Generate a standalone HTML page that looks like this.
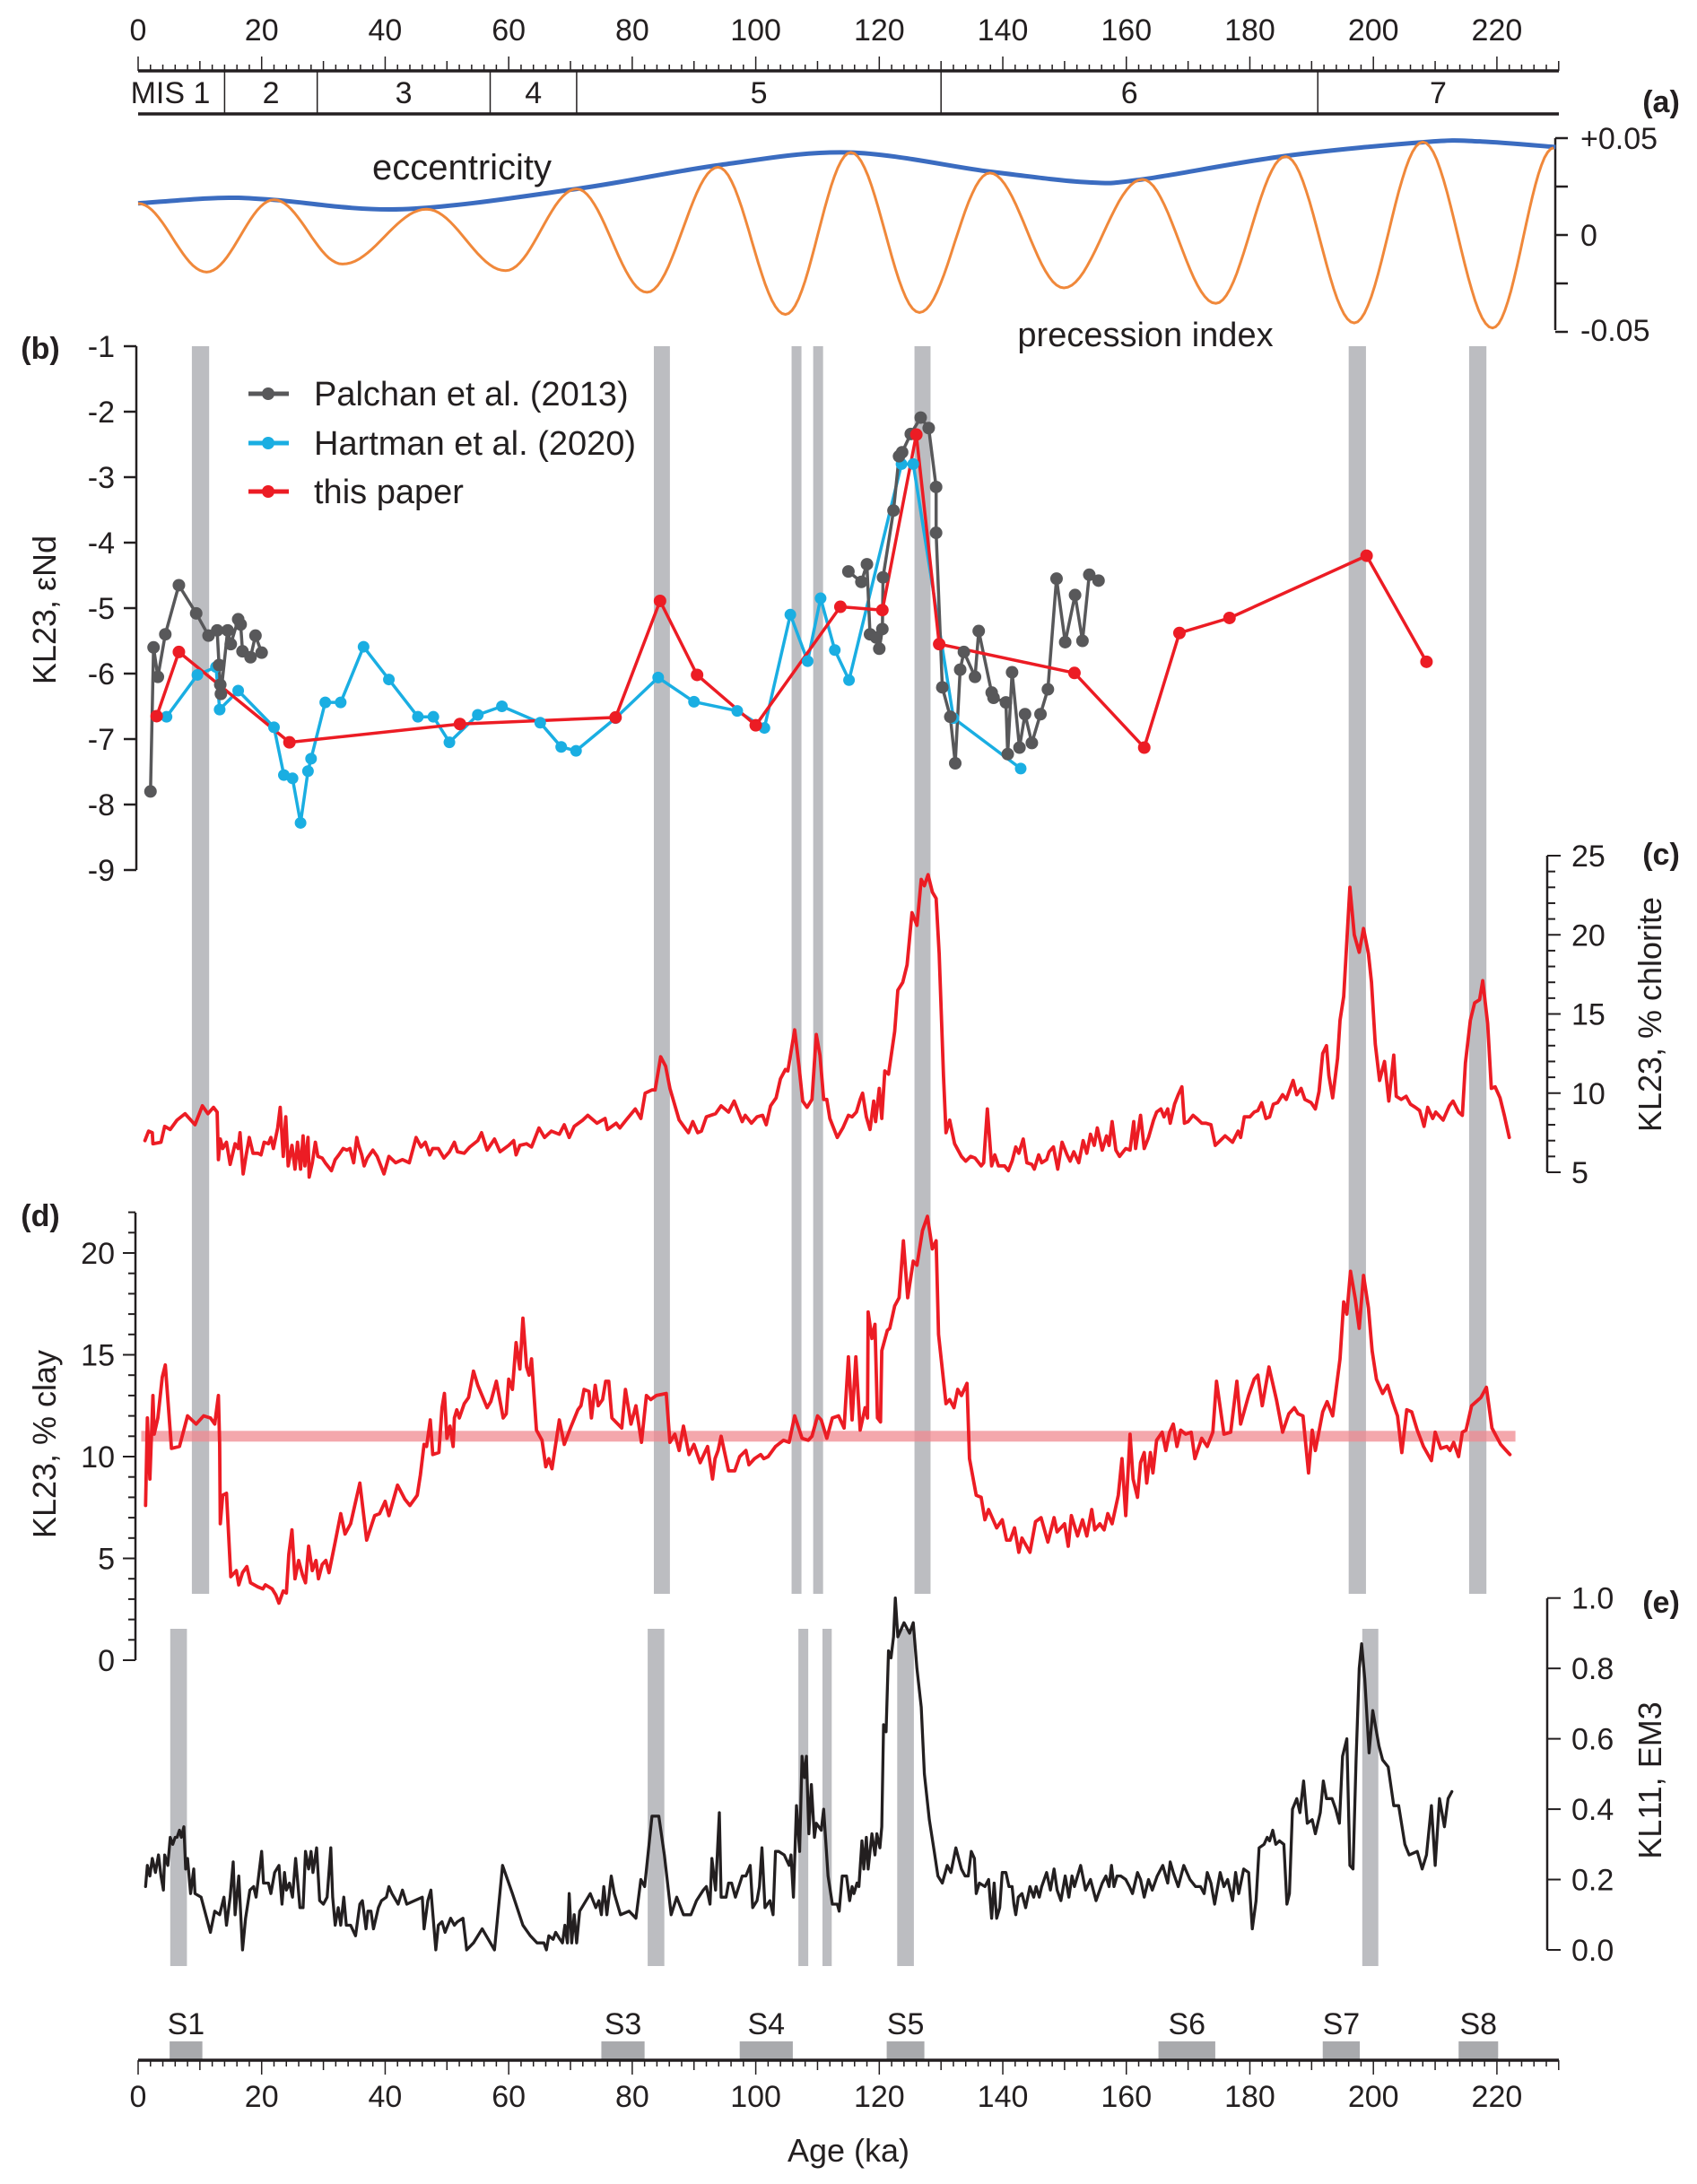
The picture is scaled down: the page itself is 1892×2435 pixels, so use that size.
<!DOCTYPE html>
<html><head><meta charset="utf-8"><style>
html,body{margin:0;padding:0;background:#fff;}
svg{display:block;font-family:"Liberation Sans",Arial,sans-serif;}
</style></head><body>
<svg id="fig" xmlns="http://www.w3.org/2000/svg" width="1892" height="2435" viewBox="0 0 1892 2435">
<rect x="0" y="0" width="1892" height="2435" fill="#fff"/>
<g id="bars"></g>
<g id="axes" stroke="#231f20" fill="none"></g>
<g id="marks"></g>
<g id="labels" fill="#231f20" font-size="34">
  <text x="1852" y="125" font-weight="bold" text-anchor="middle">(a)</text>
  <text x="515" y="200" text-anchor="middle" font-size="40">eccentricity</text>
  <text x="1277" y="386" text-anchor="middle" font-size="38">precession index</text>
  <text x="1762" y="166">+0.05</text>
  <text x="1762" y="274">0</text>
  <text x="1762" y="380">-0.05</text>
  <text x="45" y="400" font-weight="bold" text-anchor="middle">(b)</text>
  <text transform="translate(62,680) rotate(-90)" text-anchor="middle" font-size="36">KL23,  εNd</text>
  <text x="350" y="452" font-size="38">Palchan et al. (2013)</text>
  <text x="350" y="507" font-size="38">Hartman et al. (2020)</text>
  <text x="350" y="561" font-size="38">this paper</text>
  <text x="1852" y="964" font-weight="bold" text-anchor="middle">(c)</text>
  <text transform="translate(1852,1131) rotate(-90)" text-anchor="middle" font-size="36">KL23,  % chlorite</text>
  <text x="45" y="1367" font-weight="bold" text-anchor="middle">(d)</text>
  <text transform="translate(62,1610) rotate(-90)" text-anchor="middle" font-size="36">KL23,  % clay</text>
  <text x="1852" y="1798" font-weight="bold" text-anchor="middle">(e)</text>
  <text transform="translate(1852,1985) rotate(-90)" text-anchor="middle" font-size="36">KL11,  EM3</text>
  <text x="946" y="2410" text-anchor="middle" font-size="36">Age (ka)</text>
</g>
</svg>
<script>
// ---------- data ----------
const ageTicks = [0,20,40,60,80,100,120,140,160,180,200,220];
const misBounds = [14,29,57,71,130,191];
const misLabels = ["MIS 1","2","3","4","5","6","7"];
const eccAge = [0,12.9,21.7,42.8,71,93.9,115,137.9,153.8,162.6,185.5,208.4,217.2,229.5];
const eccVal = [0.0163,0.0191,0.0182,0.0133,0.0238,0.036,0.0426,0.0327,0.0272,0.0287,0.0407,0.048,0.0483,0.0454];
const precAge = [0,11.1,22.0,33.1,46.7,59.5,71.0,82.4,93.9,104.8,115.4,126.5,137.9,149.9,162.6,174.5,185.8,196.9,208.0,219.3,229.2];
const precVal = [0.0163,-0.0191,0.0182,-0.015,0.0133,-0.0184,0.0238,-0.0296,0.035,-0.041,0.0426,-0.040,0.032,-0.0273,0.0287,-0.0353,0.0405,-0.0454,0.048,-0.048,0.045];
const aTicks = [0.05,0.025,0,-0.025,-0.05];

const bTicks = [-1,-2,-3,-4,-5,-6,-7,-8,-9];
const palAge = [2.0,2.5,3.2,4.4,6.6,9.4,11.4,12.8,13.1,13.3,13.4,14.5,15.0,16.2,16.6,16.9,18.2,19.0,20.0,115.0,117.1,118.0,118.5,119.5,120.0,120.5,120.6,122.3,123.2,123.7,125.1,126.7,128.0,129.2,129.2,130.2,131.5,132.3,133.1,133.7,135.5,136.1,138.2,138.5,140.5,140.8,141.5,142.7,143.6,144.7,146.1,147.3,148.7,150.1,151.7,152.9,154.0,155.5];
const palVal = [-7.8,-5.6,-6.05,-5.4,-4.65,-5.08,-5.42,-5.34,-5.87,-6.17,-6.31,-5.34,-5.55,-5.17,-5.25,-5.66,-5.75,-5.42,-5.68,-4.44,-4.6,-4.33,-5.4,-5.45,-5.62,-5.32,-4.53,-3.51,-2.68,-2.62,-2.34,-2.09,-2.25,-3.15,-3.85,-6.21,-6.66,-7.37,-5.94,-5.67,-6.05,-5.35,-6.29,-6.37,-6.44,-7.23,-5.98,-7.13,-6.62,-7.06,-6.62,-6.24,-4.55,-5.52,-4.8,-5.5,-4.49,-4.58];
const hartAge = [4.6,9.6,12.6,13.2,16.2,22.0,23.6,25.0,26.3,27.5,28.0,30.3,32.8,36.5,40.6,45.3,47.8,50.4,55.0,58.9,65.1,68.5,70.9,77.3,84.2,90.0,97.0,101.4,105.6,108.4,110.5,112.8,115.1,123.6,125.5,132.0,142.9];
const hartVal = [-6.66,-6.02,-5.9,-6.55,-6.26,-6.82,-7.55,-7.6,-8.28,-7.49,-7.3,-6.44,-6.44,-5.59,-6.09,-6.66,-6.66,-7.05,-6.63,-6.5,-6.75,-7.12,-7.18,-6.68,-6.06,-6.43,-6.57,-6.83,-5.1,-5.81,-4.85,-5.64,-6.1,-2.8,-2.8,-6.68,-7.45];
const thisAge = [3.0,6.6,24.5,52.1,77.3,84.5,90.5,100.0,113.7,120.5,126.0,129.7,151.6,162.9,168.6,176.7,198.9,208.6];
const thisVal = [-6.65,-5.67,-7.05,-6.77,-6.67,-4.89,-6.02,-6.79,-4.98,-5.03,-2.35,-5.55,-5.99,-7.13,-5.38,-5.15,-4.2,-5.82];

const cTicks = [25,20,15,10,5];
const chlAge = [1.1,1.7,2.3,2.4,3.7,4.3,5.2,6.3,7.6,9.2,10.4,11.3,12.2,12.8,13.0,13.3,13.7,14.3,14.9,15.7,16.2,16.5,17.0,17.5,18.0,18.6,19.4,19.9,20.4,21.1,21.5,21.9,22.6,23.0,23.5,23.9,24.3,24.9,25.4,25.8,26.3,26.7,27.0,27.5,27.7,28.2,28.7,29.1,29.8,30.3,31.3,31.9,32.5,33.2,33.8,34.3,34.9,35.4,35.7,36.2,36.6,37.1,38.0,38.7,39.8,40.6,41.7,42.8,43.9,45.0,45.8,46.5,47.2,47.7,48.6,49.5,50.4,51.2,51.7,52.8,53.7,55.0,55.6,56.5,57.7,58.6,60.0,60.8,61.2,61.8,62.9,63.7,64.9,65.8,66.9,68.2,69.0,69.8,70.6,72.0,72.8,74.3,75.6,76.0,77.4,78.0,79.0,80.5,81.4,82.1,83.2,83.7,84.6,85.4,86.1,87.6,89.1,89.8,90.6,91.2,92.0,93.5,94.4,95.6,96.5,97.8,98.3,99.3,100.2,101.1,101.7,102.4,103.3,104.0,104.8,105.2,106.3,107.0,107.6,108.3,109.1,109.8,110.4,111.0,111.5,112.0,113.2,114.1,115.0,115.6,116.3,116.9,117.3,117.9,118.5,119.1,119.4,120.0,120.4,120.9,121.5,122.5,123.0,123.8,124.5,125.3,126.1,126.8,127.3,127.9,128.6,129.2,129.7,130.4,130.8,131.4,132.2,133.3,134.0,134.8,135.5,136.5,136.9,137.5,138.2,138.7,139.3,140.3,140.9,141.5,142.1,142.6,143.3,143.9,144.7,145.1,145.8,146.3,147.1,147.5,148.2,148.9,149.6,150.4,150.9,151.5,152.3,153.0,153.6,154.2,154.8,155.3,156.1,156.8,157.2,157.7,158.3,158.9,159.9,160.6,161.2,161.5,162.3,162.9,163.6,164.4,164.9,165.6,166.1,166.7,167.1,167.8,168.4,169.0,169.4,170.0,170.8,171.4,172.2,172.9,173.7,174.4,175.2,176.0,177.2,178.1,178.5,179.1,180.0,180.7,181.3,181.9,182.6,183.2,183.8,184.5,185.3,185.9,187.0,187.6,188.3,188.9,189.9,190.6,191.2,191.8,192.4,192.8,193.4,194.2,194.6,195.2,196.2,196.9,197.7,198.4,199.2,199.7,200.3,201.0,201.8,202.5,203.3,203.7,204.5,205.3,206.0,206.8,207.5,208.2,208.8,209.6,210.1,211.3,212.3,212.9,213.8,214.4,214.9,215.7,216.4,217.2,217.7,218.5,219.1,219.7,220.5,221.2,222.0];
const chlVal = [7.0,7.6,7.5,6.8,6.9,7.9,7.7,8.3,8.7,8.0,9.2,8.7,9.1,8.8,5.8,7.1,6.5,6.9,5.5,6.8,6.5,7.5,4.9,6.1,7.2,6.2,6.2,6.1,6.9,6.8,7.2,6.5,7.8,9.1,6.0,8.5,5.4,6.7,5.2,6.9,5.2,7.3,5.4,7.2,4.7,5.6,6.9,6.0,5.9,5.6,5.1,5.8,6.1,6.5,6.4,6.5,5.6,7.2,6.7,6.1,5.4,5.9,6.4,6.0,4.9,6.0,5.6,5.8,5.6,7.2,6.6,6.9,6.1,6.5,6.5,5.9,6.3,6.9,6.3,6.2,6.6,7.0,7.5,6.4,7.1,6.3,6.7,7.0,6.1,6.7,6.8,6.6,7.8,7.2,7.6,7.4,8.0,7.2,7.9,8.3,8.6,8.1,8.4,7.7,8.1,7.8,8.3,9.0,8.4,10.0,10.2,10.2,12.3,11.7,10.3,8.3,7.5,8.2,7.5,7.6,8.5,8.7,9.2,8.8,9.5,8.2,8.6,8.1,8.5,8.6,8.0,9.2,9.7,10.9,11.5,11.4,14.0,11.7,9.5,9.1,9.6,13.7,12.4,9.6,9.6,8.4,7.2,7.8,8.6,8.5,8.8,9.6,10.0,8.5,7.7,9.5,8.2,10.3,8.4,11.4,11.2,13.9,16.5,17.0,18.1,21.4,20.6,23.5,23.1,23.8,22.7,22.3,18.8,11.1,7.5,8.3,6.8,6.0,5.7,6.0,5.9,5.4,5.6,9.0,5.4,6.1,5.4,5.4,5.1,5.7,6.6,6.2,7.1,5.6,5.5,5.2,6.1,5.6,5.8,6.3,6.6,5.2,6.9,6.1,5.7,6.3,5.6,7.0,6.2,7.4,6.7,7.8,6.4,7.3,6.7,8.2,6.4,6.0,6.5,6.4,8.2,6.5,8.6,6.5,7.2,8.3,8.8,9.0,8.5,9.0,8.1,9.3,9.9,10.4,8.1,8.2,8.6,8.4,8.1,8.1,8.0,6.7,7.0,7.3,6.9,7.6,7.2,8.5,8.5,8.8,8.9,9.4,8.4,8.5,9.3,9.4,9.9,9.6,10.8,9.9,10.3,9.6,9.4,9.0,10.1,12.5,13.0,11.1,9.7,12.2,14.6,16.1,23.0,20.0,18.9,20.4,18.8,17.0,13.1,10.8,12.0,9.5,12.4,9.8,9.6,9.8,9.3,9.1,8.9,7.9,9.1,8.4,8.8,8.3,9.2,9.5,8.8,8.6,11.9,14.6,15.7,15.9,17.1,14.4,10.3,10.4,9.7,8.6,7.2];

const dTicks = [20,15,10,5,0];
const clayMean = [11];
const clayAge = [1.2,1.5,1.9,2.4,2.6,3.2,3.9,4.4,5.4,6.7,8.0,9.4,10.6,11.7,12.4,13.0,13.2,13.3,13.7,14.3,15.0,15.9,16.3,16.9,17.6,18.2,19.4,20.2,20.6,21.7,22.3,22.8,23.5,24.0,24.4,24.9,25.4,26.0,26.6,27.1,27.6,28.2,28.8,29.2,29.8,30.4,30.9,31.9,32.8,33.5,34.4,35.0,35.9,37.0,38.3,39.1,40.0,40.6,42.0,43.2,44.0,45.2,45.7,46.3,46.7,47.3,47.7,48.7,49.2,49.6,50.0,50.5,51.0,51.2,51.6,52.0,52.8,53.5,54.3,55.0,56.5,57.1,58.0,59.1,59.6,60.0,60.6,61.2,61.8,62.3,62.9,63.3,63.7,64.5,65.4,66.0,66.5,67.0,68.2,69.0,70.0,71.2,71.7,72.2,73.0,73.4,74.0,74.5,75.2,75.7,76.2,76.7,78.3,78.9,79.8,80.6,81.5,82.3,83.0,83.9,85.5,86.1,86.9,87.6,88.3,89.2,90.0,91.0,92.2,93.0,93.4,93.9,94.4,95.6,96.6,97.4,98.4,98.9,99.8,100.8,101.3,102.0,103.2,104.5,105.4,106.3,107.5,108.5,109.1,110.0,110.6,111.5,112.4,113.4,114.3,115.0,115.6,116.2,116.9,117.7,118.1,118.2,118.8,119.3,119.7,120.2,120.4,121.3,121.7,122.5,123.2,123.9,124.6,125.5,126.1,127.0,127.8,128.6,129.2,129.6,130.8,131.4,132.1,132.7,133.3,134.2,134.6,135.7,136.5,137.1,137.7,139.0,139.9,140.6,141.2,141.9,142.6,143.1,144.4,145.3,146.2,147.3,148.3,148.8,150.0,150.6,151.1,152.1,152.9,153.6,154.4,154.9,155.7,156.4,157.0,157.7,158.7,159.3,159.9,160.6,161.1,161.8,162.3,162.9,163.3,163.9,164.3,164.9,165.8,166.4,167.0,167.6,168.2,168.8,169.6,170.5,171.1,172.2,173.1,174.0,174.6,175.8,176.9,177.9,178.5,179.8,180.7,181.3,182.0,183.1,184.3,185.3,186.3,187.2,187.8,188.6,189.5,190.1,190.6,191.8,192.5,193.4,194.6,195.2,195.7,196.3,197.1,197.7,198.4,199.2,199.8,200.5,201.5,202.3,203.1,203.9,204.6,205.4,206.2,207.1,208.1,209.4,210.0,210.9,211.9,212.4,213.0,213.8,214.4,215.0,215.9,217.4,218.3,219.2,220.6,221.5,222.1];
const clayVal = [7.6,11.9,8.9,13.0,11.1,11.9,13.9,14.5,10.4,10.5,12.0,11.6,12.0,11.9,11.6,13.0,10.6,6.7,8.1,8.2,4.1,4.4,3.7,4.3,4.6,3.8,3.6,3.5,3.7,3.5,3.2,2.8,3.4,3.3,5.2,6.4,4.0,4.9,4.2,3.8,5.6,4.4,4.9,4.0,4.7,4.9,4.3,5.8,7.2,6.2,6.7,7.5,8.7,5.9,7.1,7.2,7.8,7.1,8.6,7.9,7.6,8.1,9.1,10.6,10.5,11.8,10.1,10.2,12.4,13.1,10.9,11.5,10.5,11.9,12.3,11.9,12.6,12.9,14.2,13.5,12.4,12.7,13.7,11.9,12.1,13.8,13.3,15.6,14.3,16.8,14.4,14.0,14.8,11.3,10.8,9.5,9.9,9.4,11.8,10.6,11.4,12.3,12.5,13.3,13.2,11.9,13.5,12.5,12.8,13.7,13.7,11.9,11.4,13.3,11.6,12.5,10.7,13.0,12.8,13.0,13.1,10.7,11.1,10.3,11.5,10.1,10.6,9.7,10.5,8.9,9.9,10.3,11.0,9.3,9.3,10.0,10.3,9.6,9.9,10.1,9.9,10.0,10.5,10.8,10.7,12.0,10.9,10.8,11.0,12.0,11.8,10.9,11.9,12.0,11.4,14.9,11.8,14.9,11.3,12.4,11.9,17.1,15.8,16.5,11.9,11.7,15.2,16.2,16.3,17.4,17.8,20.6,17.8,19.6,19.4,21.1,21.8,20.2,20.6,16.0,12.6,12.8,12.4,13.3,13.0,13.6,9.9,8.1,8.0,6.9,7.4,6.5,6.9,5.9,5.9,6.5,5.3,6.0,5.3,6.8,7.0,5.8,7.0,6.3,6.7,5.6,7.1,6.1,6.9,6.1,7.4,6.4,6.7,6.4,7.2,6.7,8.1,9.9,7.1,11.1,8.9,8.0,9.7,10.2,8.7,10.2,9.2,10.8,11.2,10.3,11.2,11.6,10.5,11.3,11.1,11.2,9.9,10.9,10.5,11.2,13.7,11.1,11.2,13.7,11.6,13.0,13.8,14.0,12.5,14.4,12.8,11.2,12.1,12.4,12.1,12.0,9.2,11.3,10.3,12.2,12.7,12.0,14.8,17.6,17.0,19.1,17.7,16.3,18.9,17.3,15.2,13.8,13.1,13.5,12.7,12.0,10.2,12.3,12.2,11.3,10.5,9.8,11.2,10.4,10.5,10.3,10.7,10.0,11.2,11.3,12.5,12.9,13.4,11.4,10.6,10.3,10.1];

const eTicks = [1.0,0.8,0.6,0.4,0.2,0.0];
const emAge = [1.2,1.5,1.9,2.3,2.8,3.3,3.7,4.1,4.3,4.8,5.2,5.6,6.0,6.3,6.7,7.0,7.4,7.7,8.0,8.5,9.0,9.2,10.2,11.7,12.4,13.2,13.9,14.3,14.9,15.4,15.7,16.3,16.9,17.4,18.1,18.7,19.1,20.0,20.3,21.1,21.5,22.1,22.8,23.3,23.7,24.0,24.5,25.0,25.5,26.2,26.7,27.1,27.6,28.0,28.3,28.9,29.4,30.0,30.6,31.2,31.5,31.9,32.4,32.8,33.3,33.7,34.4,35.2,35.9,36.3,36.9,37.2,37.7,38.1,38.9,39.4,40.2,40.6,41.1,42.1,42.8,43.5,46.0,46.3,46.9,47.4,48.2,48.6,49.2,49.7,50.6,51.2,51.7,52.6,53.2,54.3,55.7,57.7,59.0,60.6,62.3,63.5,64.6,65.7,66.1,66.5,67.2,67.6,68.3,68.7,69.1,69.5,69.8,70.2,70.6,71.0,71.5,73.2,74.1,74.6,75.0,75.4,75.9,76.6,77.1,78.1,79.5,80.6,81.4,82.0,82.6,83.2,84.3,85.2,86.3,87.2,88.3,89.5,90.4,91.5,92.0,92.6,92.9,93.5,94.1,94.4,95.2,95.6,96.1,96.7,97.8,98.4,99.1,99.5,100.2,100.6,101.0,101.5,102.3,102.8,103.2,103.7,104.6,105.4,105.7,106.1,106.6,107.1,107.5,107.9,108.2,108.6,109.0,109.5,109.8,110.6,111.0,111.7,112.4,113.2,113.5,114.0,114.7,115.2,115.6,115.9,116.4,116.7,117.2,117.5,117.9,118.2,118.8,119.3,119.6,120.1,120.4,120.7,121.1,121.5,121.9,122.3,122.6,123.0,124.0,124.9,125.5,126.1,126.8,127.3,128.1,128.9,129.5,130.2,131.0,131.6,132.4,133.3,133.9,134.4,134.9,135.4,135.7,136.2,137.1,137.7,138.2,138.6,139.0,139.5,139.9,140.5,141.0,141.5,141.8,142.1,142.5,143.1,143.7,144.4,145.0,145.4,145.9,146.3,147.1,147.7,148.3,148.8,149.4,150.1,150.7,151.2,151.6,152.6,153.4,154.2,154.5,155.1,156.1,156.7,157.2,157.6,158.0,158.5,159.1,159.9,160.5,161.0,161.8,162.3,162.9,163.6,164.2,165.0,165.9,166.7,167.1,167.6,168.4,169.3,170.3,171.2,172.0,172.6,173.1,173.7,174.3,175.2,175.8,176.4,177.2,177.7,178.2,179.0,179.8,180.4,181.0,181.5,182.3,182.8,183.2,183.7,184.2,184.8,185.5,186.0,186.4,186.9,187.6,188.1,188.7,189.3,190.1,190.6,191.4,191.9,192.4,193.3,193.9,194.5,195.0,195.7,196.2,196.7,197.2,197.7,198.1,198.6,199.3,199.9,200.9,201.5,202.4,203.3,204.1,205.1,205.8,207.1,207.9,208.6,209.4,210.0,210.7,211.5,212.1,212.7];
const emVal = [0.18,0.24,0.21,0.26,0.22,0.27,0.21,0.17,0.27,0.24,0.32,0.30,0.32,0.32,0.34,0.32,0.35,0.23,0.26,0.16,0.23,0.16,0.15,0.05,0.11,0.10,0.15,0.07,0.15,0.25,0.10,0.21,0.00,0.09,0.17,0.18,0.15,0.28,0.19,0.19,0.16,0.22,0.24,0.13,0.22,0.17,0.19,0.15,0.26,0.12,0.12,0.28,0.23,0.28,0.22,0.29,0.14,0.13,0.15,0.29,0.15,0.07,0.12,0.07,0.15,0.07,0.07,0.04,0.13,0.14,0.06,0.11,0.11,0.06,0.12,0.14,0.15,0.18,0.16,0.13,0.17,0.13,0.15,0.06,0.14,0.17,0.00,0.07,0.08,0.05,0.09,0.07,0.08,0.09,0.00,0.02,0.06,0.00,0.24,0.16,0.07,0.04,0.02,0.02,0.00,0.04,0.03,0.05,0.03,0.02,0.07,0.02,0.16,0.02,0.10,0.02,0.11,0.16,0.12,0.14,0.10,0.18,0.10,0.21,0.16,0.10,0.11,0.09,0.20,0.18,0.28,0.38,0.38,0.27,0.10,0.15,0.10,0.10,0.14,0.17,0.18,0.13,0.26,0.17,0.39,0.15,0.15,0.19,0.19,0.15,0.21,0.21,0.24,0.12,0.14,0.18,0.29,0.12,0.14,0.10,0.28,0.28,0.27,0.24,0.27,0.15,0.41,0.28,0.55,0.49,0.55,0.33,0.47,0.32,0.36,0.34,0.40,0.21,0.13,0.13,0.11,0.21,0.21,0.14,0.18,0.16,0.19,0.18,0.31,0.23,0.32,0.23,0.33,0.27,0.33,0.29,0.35,0.64,0.62,0.85,0.83,0.89,1.00,0.89,0.93,0.90,0.93,0.80,0.69,0.50,0.37,0.28,0.21,0.19,0.24,0.22,0.29,0.23,0.21,0.21,0.28,0.26,0.16,0.19,0.18,0.20,0.09,0.19,0.09,0.12,0.22,0.22,0.18,0.18,0.13,0.10,0.15,0.16,0.12,0.18,0.15,0.18,0.15,0.18,0.22,0.17,0.23,0.17,0.14,0.21,0.15,0.21,0.18,0.24,0.17,0.20,0.18,0.14,0.19,0.21,0.18,0.24,0.18,0.21,0.21,0.20,0.18,0.16,0.22,0.20,0.15,0.20,0.17,0.21,0.24,0.19,0.25,0.22,0.18,0.24,0.20,0.18,0.18,0.16,0.22,0.19,0.13,0.22,0.18,0.20,0.14,0.22,0.16,0.23,0.22,0.06,0.14,0.29,0.30,0.32,0.31,0.34,0.30,0.31,0.30,0.13,0.16,0.40,0.43,0.39,0.48,0.36,0.37,0.33,0.39,0.48,0.43,0.43,0.40,0.36,0.55,0.60,0.24,0.23,0.54,0.80,0.87,0.77,0.56,0.68,0.58,0.54,0.52,0.41,0.41,0.30,0.27,0.28,0.23,0.27,0.41,0.24,0.43,0.35,0.43,0.45];

const bandStartBD = [8.7,83.5,105.8,109.3,125.7,196.0,215.5];
const bandEndBD = [11.5,86.1,107.4,110.9,128.3,198.8,218.3];
const bandStartE = [5.2,82.5,106.9,110.8,122.9,198.2];
const bandEndE = [7.9,85.2,108.5,112.3,125.6,200.8];
const sapNames = ["S1","S3","S4","S5","S6","S7","S8"];
const sapStart = [5.1,75,97.4,121.2,165.2,191.8,213.8];
const sapEnd = [10.4,82,106,127.3,174.4,197.8,220.2];

// ---------- scales ----------
const NS = "http://www.w3.org/2000/svg";
const X = a => 154 + a * 6.886;
const Ya = v => 262 - v / 0.05 * 108;
const Yb = v => 386 + (-1 - v) * 73;
const Yc = v => 1307 - (v - 5) * 17.65;
const Yd = v => 1851 - v * 22.7;
const Ye = v => 2174 - v * 392.3;

function mk(tag, attrs, parent) {
  const el = document.createElementNS(NS, tag);
  for (const k in attrs) el.setAttribute(k, attrs[k]);
  parent.appendChild(el);
  return el;
}
const gBars = document.getElementById("bars");
const gAx = document.getElementById("axes");
const gM = document.getElementById("marks");
const gL = document.getElementById("labels");

function line(x1, y1, x2, y2, w, name) {
  const el = mk("line", {x1, y1, x2, y2, "stroke-width": w}, gAx);
  
  
  return el;
}
function txt(x, y, s, anchor, name) {
  const el = mk("text", {x, y, "text-anchor": anchor}, gL);
  el.textContent = s;
  
  
  return el;
}
function poly(ages, vals, Y, color, w, name) {
  const pts = ages.map((a, i) => X(a).toFixed(1) + "," + Y(vals[i]).toFixed(1)).join(" ");
  const el = mk("polyline", {points: pts, fill: "none", stroke: color, "stroke-width": w, "stroke-linejoin": "round", "stroke-linecap": "round"}, gM);
  
  
  return el;
}

// ---------- grey bands ----------
bandStartBD.forEach((s, i) => {
  const r = mk("rect", {x: X(s), y: 386, width: X(bandEndBD[i]) - X(s), height: 1391, fill: "#bcbdc1"}, gBars);
  
  
});
bandStartE.forEach((s, i) => {
  const r = mk("rect", {x: X(s), y: 1816, width: X(bandEndE[i]) - X(s), height: 376, fill: "#bcbdc1"}, gBars);
  
  
});

// ---------- top age axis + MIS ----------
line(154, 79, 1738, 79, 3.5, "top-age-axis");
line(154, 127, 1738, 127, 3.5, "mis-bottom-line");
for (let a = 0; a <= 230; a += 2) {
  const len = a % 20 === 0 ? 16 : (a % 10 === 0 ? 11 : 7);
  line(X(a), 79, X(a), 79 - len, 1.5, "top-axis-tick");
}
ageTicks.forEach(a => txt(X(a), 45, String(a), "middle", "top-axis-tick-label"));
misBounds.forEach(b => line(X(b), 79, X(b), 127, 1.5, "mis-boundary"));
const misEdges = [0].concat(misBounds, [230]);
misLabels.forEach((s, i) => {
  let cx = (X(misEdges[i]) + X(misEdges[i + 1])) / 2;
  if (i === 0) cx = 190;
  txt(cx, 115, s, "middle", "mis-stage-label");
});

// ---------- panel a ----------
line(1734, 154, 1734, 368, 2.5, "a-y-axis");
aTicks.forEach(v => line(1734, Ya(v), 1748, Ya(v), 2.5, "a-y-tick"));
(function () {
  const P = eccAge.map((a, i) => [X(a), Ya(eccVal[i])]);
  let d = "M" + P[0][0] + "," + P[0][1];
  for (let i = 0; i < P.length - 1; i++) {
    const p0 = P[Math.max(0, i - 1)], p1 = P[i], p2 = P[i + 1], p3 = P[Math.min(P.length - 1, i + 2)];
    const c1 = [p1[0] + (p2[0] - p0[0]) / 6, p1[1] + (p2[1] - p0[1]) / 6];
    const c2 = [p2[0] - (p3[0] - p1[0]) / 6, p2[1] - (p3[1] - p1[1]) / 6];
    d += " C" + c1.join(",") + " " + c2.join(",") + " " + p2.join(",");
  }
  const e = mk("path", {d, fill: "none", stroke: "#3b6cc0", "stroke-width": 5}, gM);
  
  
  let pd = "";
  for (let i = 0; i < precAge.length - 1; i++) {
    for (let k = 0; k <= 20; k++) {
      const t = k / 20, a = precAge[i] + (precAge[i + 1] - precAge[i]) * t;
      const v = precVal[i] + (precVal[i + 1] - precVal[i]) * (1 - Math.cos(Math.PI * t)) / 2;
      pd += (pd ? " L" : "M") + X(a).toFixed(1) + "," + Ya(v).toFixed(1);
    }
  }
  const p = mk("path", {d: pd, fill: "none", stroke: "#f0883a", "stroke-width": 3}, gM);
  
  
})();

// ---------- panel b ----------
line(152, 386, 152, 970, 2.5, "b-y-axis");
bTicks.forEach(v => {
  line(138, Yb(v), 152, Yb(v), 2.5, "b-y-tick");
  txt(128, Yb(v) + 12, String(v), "end", "b-y-tick-label");
});
poly(hartAge, hartVal, Yb, "#1aaee2", 3.5, "hartman-line");
poly(palAge.slice(0, 19), palVal.slice(0, 19), Yb, "#58585a", 3.5, "palchan-line-young");
poly(palAge.slice(19), palVal.slice(19), Yb, "#58585a", 3.5, "palchan-line-old");
poly(thisAge, thisVal, Yb, "#ec1c24", 3.5, "this-paper-line");
function dots(ages, vals, color, r, name) {
  ages.forEach((a, i) => {
    const c = mk("circle", {cx: X(a), cy: Yb(vals[i]), r, fill: color}, gM);
    
    
  });
}
dots(hartAge, hartVal, "#1aaee2", 6.5, "hartman-point");
dots(palAge, palVal, "#58585a", 7, "palchan-point");
dots(thisAge, thisVal, "#ec1c24", 7, "this-paper-point");
[["#58585a", 439, "legend-palchan-symbol"], ["#1aaee2", 494, "legend-hartman-symbol"], ["#ec1c24", 548, "legend-this-paper-symbol"]].forEach(L => {
  const l = mk("line", {x1: 277, y1: L[1], x2: 322, y2: L[1], stroke: L[0], "stroke-width": 5}, gM);
  
  
  const c = mk("circle", {cx: 299, cy: L[1], r: 7, fill: L[0]}, gM);
  
  
});

// ---------- panel c ----------
line(1725, 954, 1725, 1307, 2.5, "c-y-axis");
for (let v = 5; v <= 25; v++) line(1725, Yc(v), v % 5 === 0 ? 1740 : 1734, Yc(v), 2, "c-y-tick");
cTicks.forEach(v => txt(1752, Yc(v) + 12, String(v), "start", "c-y-tick-label"));
poly(chlAge, chlVal, Yc, "#ec1c24", 3.8, "chlorite-line");

// ---------- panel d ----------
line(151, 1352, 151, 1851, 2.5, "d-y-axis");
for (let v = 0; v <= 22; v++) line(v % 5 === 0 ? 137 : 143, Yd(v), 151, Yd(v), 2, "d-y-tick");
dTicks.forEach(v => txt(128, Yd(v) + 12, String(v), "end", "d-y-tick-label"));
(function () {
  const r = mk("rect", {x: X(0.5), y: Yd(clayMean[0]) - 6, width: X(223) - X(0.5), height: 12, fill: "#f08a90", opacity: 0.75}, gM);
  
  
})();
poly(clayAge, clayVal, Yd, "#ec1c24", 3.8, "clay-line");

// ---------- panel e ----------
line(1725, 1782, 1725, 2174, 2.5, "e-y-axis");
eTicks.forEach(v => {
  line(1725, Ye(v), 1740, Ye(v), 2, "e-y-tick");
  txt(1752, Ye(v) + 12, v.toFixed(1), "start", "e-y-tick-label");
});
poly(emAge, emVal, Ye, "#231f20", 3.3, "em3-line");

// ---------- bottom age axis ----------
sapStart.forEach((s, i) => {
  const r = mk("rect", {x: X(s), y: 2276, width: X(sapEnd[i]) - X(s), height: 21, fill: "#a9aaad"}, gBars);
  
  
  txt((X(s) + X(sapEnd[i])) / 2, 2268, sapNames[i], "middle", "sapropel-label");
});
line(154, 2297, 1738, 2297, 3.5, "bottom-age-axis");
for (let a = 0; a <= 230; a += 2) {
  const len = a % 20 === 0 ? 16 : (a % 10 === 0 ? 11 : 7);
  line(X(a), 2297, X(a), 2297 + len, 1.5, "bottom-axis-tick");
}
ageTicks.forEach(a => txt(X(a), 2349, String(a), "middle", "bottom-axis-tick-label"));
</script>
</body></html>
